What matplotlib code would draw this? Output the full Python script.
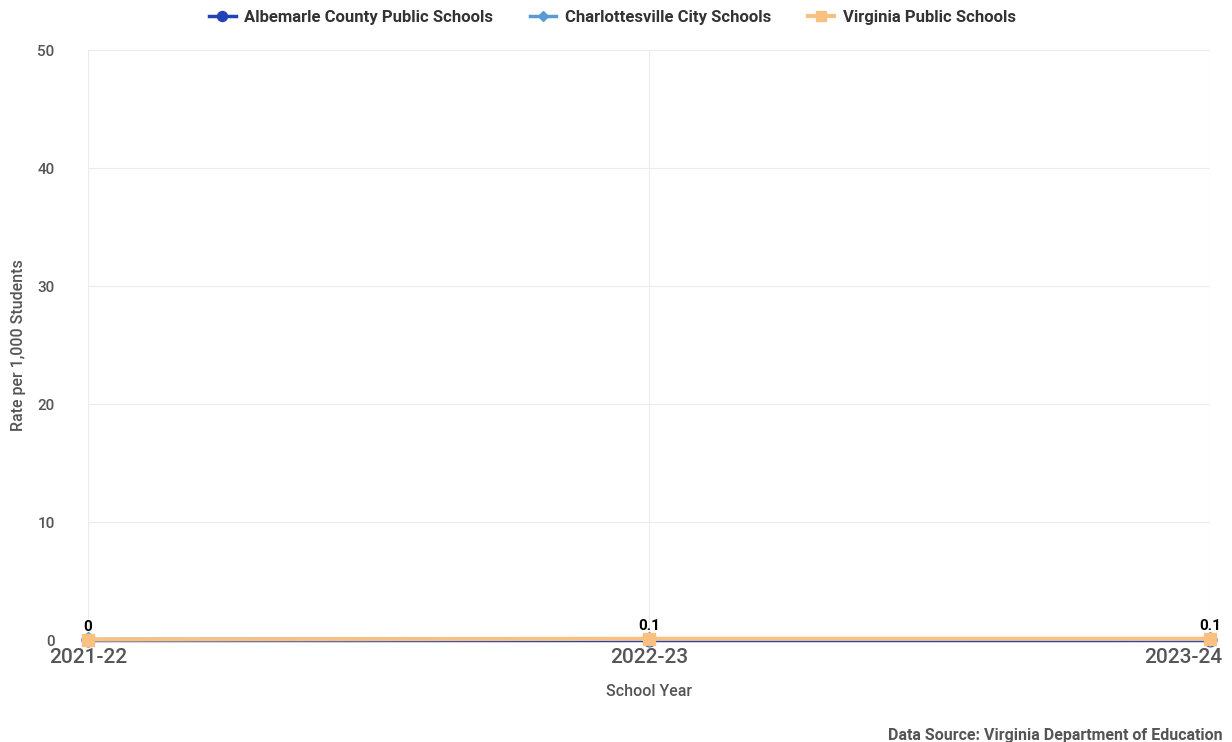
import matplotlib.pyplot as plt
import matplotlib.transforms as mtransforms

years = ['2021-22', '2022-23', '2023-24']
albemarle = [0.0, 0.0, 0.0]
charlottesville = [0.05, 0.1, 0.05]
virginia = [0.04, 0.1, 0.1]
virginia_labels = ['0', '0.1', '0.1']

plt.rcParams['font.family'] = ['Roboto', 'DejaVu Sans']

fig = plt.figure(figsize=(12.32, 7.42), dpi=100)
ax = fig.add_axes([88 / 1232, 1 - 640 / 742, (1210 - 88) / 1232, 590 / 742])

x = list(range(len(years)))
ax.plot(x, albemarle, color='#2342b5', lw=2.5, marker='o', ms=9, clip_on=False, zorder=3,
        label='Albemarle County Public Schools')
ax.plot(x, charlottesville, color='#5b9bd5', lw=2.5, marker='D', ms=7, clip_on=False, zorder=4,
        label='Charlottesville City Schools')
ax.plot(x, virginia, color='#f9c17f', lw=3, marker='s', ms=9, clip_on=False, zorder=5,
        label='Virginia Public Schools')

for xi, v, lab in zip(x, virginia, virginia_labels):
    ax.annotate(lab, (xi, v), xytext=(0, 4), textcoords='offset points', ha='center',
                va='bottom', fontsize=11, fontweight='bold', color='black', zorder=6)

ax.set_xlim(0, len(years) - 1)
ax.set_ylim(0, 50)
ax.set_xticks(x)
ax.set_xticklabels(years, fontsize=15, color='#555555', fontweight='medium')
ax.set_yticks(range(0, 51, 10))
ax.tick_params(axis='y', labelsize=11, labelcolor='#555555', length=0, pad=24)
ax.tick_params(axis='x', length=0, pad=6)
for lab in ax.get_yticklabels():
    lab.set_fontweight('medium')
last = ax.get_xticklabels()[-1]
last.set_ha('right')
last.set_transform(last.get_transform() + mtransforms.ScaledTranslation(12 / 100, 0, fig.dpi_scale_trans))
ax.grid(True, color='#ececec', lw=0.8)
ax.set_axisbelow(True)
for s in ax.spines.values():
    s.set_visible(False)

ax.set_xlabel('School Year', fontsize=11.5, color='#555555', labelpad=12, fontweight='medium')
ax.set_ylabel('Rate per 1,000 Students', fontsize=11.5, color='#555555', labelpad=8,
              fontweight='medium')

fig.legend(loc='upper center', bbox_to_anchor=(0.497, 1.007), ncol=3, frameon=False,
           handlelength=1.6, columnspacing=2.2, handletextpad=0.5, markerscale=0.8,
           prop={'weight': 'bold', 'size': 12})
leg = fig.legends[0]
for t in leg.get_texts():
    t.set_color('#333333')

fig.text(0.992, -0.002, 'Data Source: Virginia Department of Education', ha='right', va='bottom',
         fontsize=11.5, color='#555555', fontweight='bold')

fig.savefig('out.png', dpi=100)
